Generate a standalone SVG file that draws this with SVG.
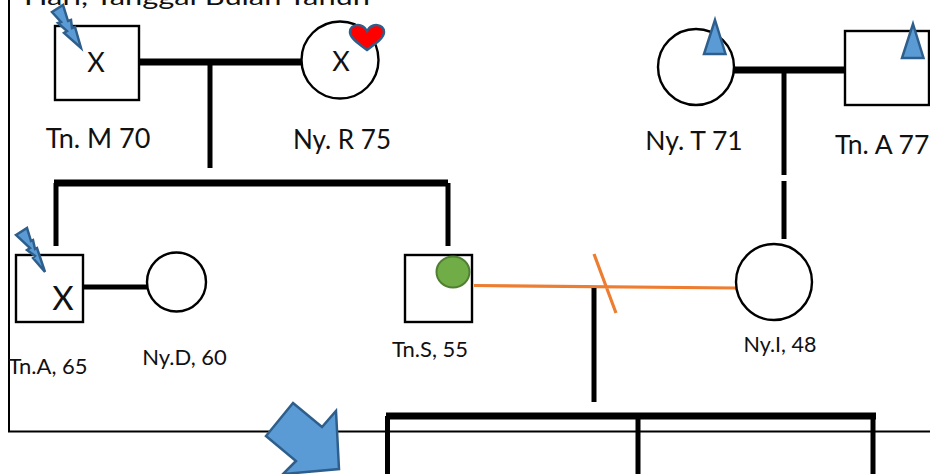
<svg xmlns="http://www.w3.org/2000/svg" width="930" height="474" viewBox="0 0 930 474">
<style>
text{font-family:Lato,"Noto Sans",sans-serif;fill:#111}
.n{fill:#fff;stroke:#000;stroke-width:2.400}
.b{stroke:#000;stroke-width:5;fill:none}
.t{stroke:#000;stroke-width:7;fill:none}
.o{stroke:#ed7d31;stroke-width:3.200;fill:none}
.bl{fill:#5b9bd5;stroke:#2e5f8c;stroke-width:2.500;stroke-linejoin:miter}
.f{stroke:#000;stroke-width:2;fill:none}
</style>
<rect width="930" height="474" fill="#fff"/>
<g id="frame"><path class="f" d="M9 0V431.500H930"/></g>
<text x="24" y="5" font-size="24" textLength="346" lengthAdjust="spacingAndGlyphs">Hari, Tanggal Bulan Tahun</text>
<g id="connectors">
<path class="t" d="M139 62H301"/>
<path class="b" d="M210 64V168"/>
<path class="t" d="M734 70H848"/>
<path class="b" d="M784 72V175M784 181V239"/>
<path class="t" d="M54 183H448"/>
<path class="b" d="M56 183V246M448 183V246"/>
<path class="b" d="M84 287H147"/>
<path class="o" d="M474 285.500L736 288M594 254L616 313"/>
<path class="b" d="M594 288V402"/>
<path class="t" d="M386 416H876"/>
<path class="b" d="M387.500 416V474M638 416V474M873 416V474"/>
</g>
<g id="tn-m"><rect class="n" x="55" y="26" width="84" height="74"/><text x="96" y="72" font-size="27" text-anchor="middle">X</text><text x="98" y="148" font-size="27" text-anchor="middle">Tn. M 70</text>
<path class="bl" d="M52 12L63 5L68 21L71 20L72 28L75 27L81 48L64 33L67 31L58 23L61 22Z"/></g>
<g id="ny-r"><circle class="n" cx="340" cy="60" r="38.500"/><text x="341" y="71" font-size="27" text-anchor="middle">X</text><text x="342" y="149" font-size="26" text-anchor="middle">Ny. R 75</text>
<path d="M367 50C358 43 350 38 350 32C350 24 362 22 367 31C372 22 384 24 384 32C384 38 376 43 367 50Z" fill="#f00" stroke="#2e5f8c" stroke-width="2.500"/></g>
<g id="ny-t"><circle class="n" cx="696" cy="67" r="38"/><text x="694" y="150" font-size="26.500" text-anchor="middle">Ny. T 71</text><path class="bl" d="M715 20L725.500 54H704Z"/></g>
<g id="tn-a-77"><rect class="n" x="845" y="31" width="84" height="74"/><text x="835" y="154" font-size="26.500">Tn. A 77</text><path class="bl" d="M913 24L923.500 58H902Z"/></g>
<g id="tn-a-65"><rect class="n" x="16" y="255" width="67" height="67"/><text x="63" y="310" font-size="33" text-anchor="middle">X</text><text x="48" y="374" font-size="22" text-anchor="middle">Tn.A, 65</text>
<path class="bl" d="M16 235L27 228L31 241L33 240L35 249L37 248L45 272L33 258L35 256L27 250L30 248Z"/></g>
<g id="ny-d"><circle class="n" cx="176.500" cy="282" r="29.500"/><text x="184.500" y="365" font-size="22" text-anchor="middle">Ny.D, 60</text></g>
<g id="tn-s"><rect class="n" x="405" y="255" width="67" height="67"/><ellipse cx="453" cy="272" rx="16.500" ry="15.500" fill="#70ad47" stroke="#507e32" stroke-width="2"/><text x="430" y="357" font-size="22" text-anchor="middle">Tn.S, 55</text></g>
<g id="ny-i"><circle class="n" cx="774" cy="282" r="38"/><text x="780" y="352" font-size="21.500" text-anchor="middle">Ny.I, 48</text></g>
<g id="arrow"><path class="bl" d="M293 403L322 427L336 411L339 469L284 474H283L296 461L266 436Z"/></g>
</svg>
